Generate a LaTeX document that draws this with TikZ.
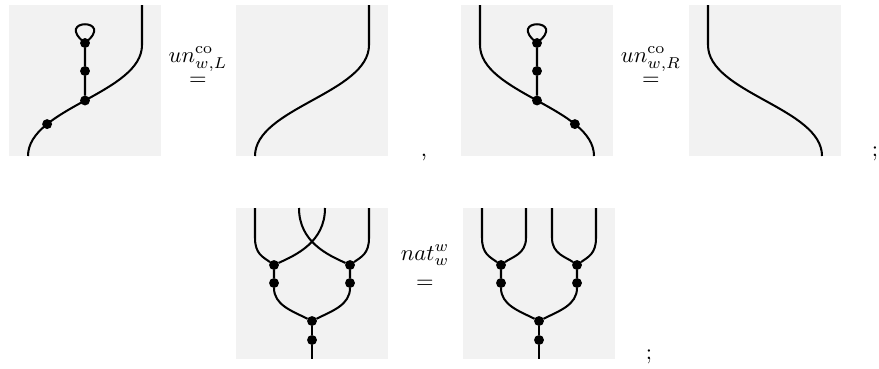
\documentclass[tikz,border=0pt]{standalone}
\usepackage{amsmath}

\begin{document}
\begin{tikzpicture}[x=0.0156cm,y=-0.0156cm,
  panel/.style={fill=black!5},
  strand/.style={line width=0.9pt},
  dot/.style={circle,fill=black,inner sep=0pt,outer sep=0pt,minimum size=4.4pt},
  lbl/.style={anchor=base,inner sep=0pt}]
  \useasboundingbox (0,0) rectangle (879,368);
  % counit, left: string with loop on the junction
  \begin{scope}[shift={(9,5)}]
    \fill[panel] (0,0) rectangle (152,151);
    \coordinate (ul-top) at (133,0);
    \coordinate (ul-bend) at (133,40);
    \coordinate (ul-bot) at (19,151);
    \draw[strand] (ul-top) -- (ul-bend) .. controls +(0,48) and +(0,-48) .. (ul-bot)
      node[dot,pos=0.5] (ul-j) {} node[dot,pos=0.74] (ul-c) {};
    \node[dot] (ul-m) at (76,66) {};
    \node[dot] (ul-u) at (76,38) {};
    \draw[strand] (ul-j) -- (ul-m) -- (ul-u);
    \draw[strand] (ul-u.center) .. controls +(-32,-25) and +(32,-25) .. (ul-u.center);
  \end{scope}
  \node[lbl] (eqL) at (198,85) {$=$};
  \node[lbl] (unL) at (198,62) {$un^{\mathrm{co}}_{w,L}$};
  % plain string, left
  \begin{scope}[shift={(236,5)}]
    \fill[panel] (0,0) rectangle (152,151);
    \coordinate (pl-top) at (133,0);
    \coordinate (pl-bend) at (133,40);
    \coordinate (pl-bot) at (19,151);
    \draw[strand] (pl-top) -- (pl-bend) .. controls +(0,48) and +(0,-48) .. (pl-bot);
  \end{scope}
  \node[lbl] (comma) at (424,156) {,};
  % counit, right (mirror image)
  \begin{scope}[shift={(613,5)},xscale=-1]
    \fill[panel] (0,0) rectangle (152,151);
    \coordinate (ur-top) at (133,0);
    \coordinate (ur-bend) at (133,40);
    \coordinate (ur-bot) at (19,151);
    \draw[strand] (ur-top) -- (ur-bend) .. controls +(0,48) and +(0,-48) .. (ur-bot)
      node[dot,pos=0.5] (ur-j) {} node[dot,pos=0.74] (ur-c) {};
    \node[dot] (ur-m) at (76,66) {};
    \node[dot] (ur-u) at (76,38) {};
    \draw[strand] (ur-j) -- (ur-m) -- (ur-u);
    \draw[strand] (ur-u.center) .. controls +(-32,-25) and +(32,-25) .. (ur-u.center);
  \end{scope}
  \node[lbl] (eqR) at (651,85) {$=$};
  \node[lbl] (unR) at (651,62) {$un^{\mathrm{co}}_{w,R}$};
  % plain string, right
  \begin{scope}[shift={(841,5)},xscale=-1]
    \fill[panel] (0,0) rectangle (152,151);
    \coordinate (pr-top) at (133,0);
    \coordinate (pr-bend) at (133,40);
    \coordinate (pr-bot) at (19,151);
    \draw[strand] (pr-top) -- (pr-bend) .. controls +(0,48) and +(0,-48) .. (pr-bot);
  \end{scope}
  \node[lbl] (semiA) at (875,156) {;};
  % naturality: crossed strands
  \begin{scope}[shift={(236,208)}]
    \fill[panel] (0,0) rectangle (152,151);
    \node[dot] (x-l1) at (38,57) {};
    \node[dot] (x-r1) at (114,57) {};
    \node[dot] (x-l2) at (38,75) {};
    \node[dot] (x-r2) at (114,75) {};
    \node[dot] (x-c1) at (76,113) {};
    \node[dot] (x-c2) at (76,132) {};
    \coordinate (x-t1) at (19,0);
    \coordinate (x-b1) at (19,30);
    \coordinate (x-t2) at (63,0);
    \coordinate (x-t3) at (89,0);
    \coordinate (x-t4) at (133,0);
    \coordinate (x-b4) at (133,30);
    \coordinate (x-bot) at (76,151);
    \draw[strand] (x-t1) -- (x-b1) .. controls +(0,16) and +(-11,-8) .. (x-l1);
    \draw[strand] (x-t4) -- (x-b4) .. controls +(0,16) and +(11,-8) .. (x-r1);
    \draw[strand] (x-t2) .. controls +(0,34) and +(-22,-10) .. (x-r1);
    \draw[strand] (x-t3) .. controls +(0,34) and +(22,-10) .. (x-l1);
    \draw[strand] (x-l1) -- (x-l2) .. controls +(0,22) and +(-20,-10) .. (x-c1);
    \draw[strand] (x-r1) -- (x-r2) .. controls +(0,22) and +(20,-10) .. (x-c1);
    \draw[strand] (x-c1) -- (x-c2) -- (x-bot);
  \end{scope}
  \node[lbl] (eqN) at (425,288) {$=$};
  \node[lbl] (natN) at (425,260) {$nat^w_w$};
  % naturality: two cups side by side
  \begin{scope}[shift={(463,208)}]
    \fill[panel] (0,0) rectangle (152,151);
    \node[dot] (y-l1) at (38,57) {};
    \node[dot] (y-r1) at (114,57) {};
    \node[dot] (y-l2) at (38,75) {};
    \node[dot] (y-r2) at (114,75) {};
    \node[dot] (y-c1) at (76,113) {};
    \node[dot] (y-c2) at (76,132) {};
    \coordinate (y-t1) at (19,0);
    \coordinate (y-b1) at (19,30);
    \coordinate (y-t2) at (63,0);
    \coordinate (y-b2) at (63,30);
    \coordinate (y-t3) at (89,0);
    \coordinate (y-b3) at (89,30);
    \coordinate (y-t4) at (133,0);
    \coordinate (y-b4) at (133,30);
    \coordinate (y-bot) at (76,151);
    \draw[strand] (y-t1) -- (y-b1) .. controls +(0,16) and +(-11,-8) .. (y-l1);
    \draw[strand] (y-t2) -- (y-b2) .. controls +(0,16) and +(11,-8) .. (y-l1);
    \draw[strand] (y-t3) -- (y-b3) .. controls +(0,16) and +(-11,-8) .. (y-r1);
    \draw[strand] (y-t4) -- (y-b4) .. controls +(0,16) and +(11,-8) .. (y-r1);
    \draw[strand] (y-l1) -- (y-l2) .. controls +(0,22) and +(-20,-10) .. (y-c1);
    \draw[strand] (y-r1) -- (y-r2) .. controls +(0,22) and +(20,-10) .. (y-c1);
    \draw[strand] (y-c1) -- (y-c2) -- (y-bot);
  \end{scope}
  \node[lbl] (semiB) at (649,359) {;};
\end{tikzpicture}
\end{document}
